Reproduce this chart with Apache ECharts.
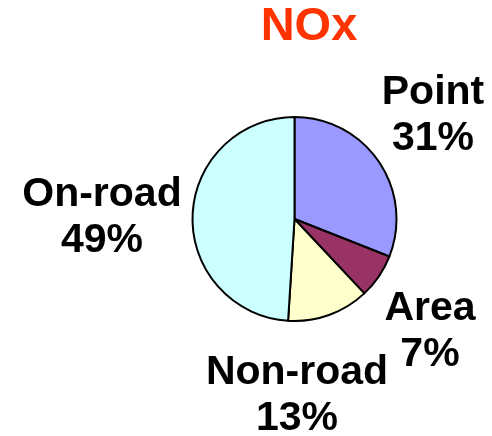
<!DOCTYPE html>
<html>
<head>
<meta charset="utf-8">
<script src="https://cdn.jsdelivr.net/npm/echarts@6/dist/echarts.min.js"></script>
<style>
  html, body { margin: 0; padding: 0; background: #fff; }
  #chart { width: 492px; height: 436px; }
</style>
</head>
<body>
<div id="chart"></div>
<script>
// data
const categories = ['Point', 'Area', 'Non-road', 'On-road']
const shares = [31, 7, 13, 49]
const sliceColors = ['#9999FF', '#993366', '#FFFFCC', '#CCFFFF']

// where each label block sits (centre of the two text lines)
const labelSpots = [[433, 116], [430, 332], [297, 396], [102, 218]]

const chart = echarts.init(document.getElementById('chart'))

const options = {
  backgroundColor: '#fff',
  animation: false,
  title: {
    text: 'NOx',
    left: 304,
    top: -1,
    textAlign: 'center',
    textStyle: {
      color: '#FF3300',
      fontFamily: 'Liberation Sans, Arial, sans-serif',
      fontWeight: 'bold',
      fontSize: 47
    }
  },
  series: [{
    type: 'pie',
    center: [294.5, 219],
    radius: [0, 102],
    startAngle: 90,
    clockwise: true,
    data: categories.map((name, i) => ({
      name: name,
      value: shares[i],
      itemStyle: { color: sliceColors[i] }
    })),
    itemStyle: {
      borderColor: '#000',
      borderWidth: 2
    },
    label: {
      show: true,
      formatter: '{b}\n{d}%',
      color: '#000',
      fontFamily: 'Liberation Sans, Arial, sans-serif',
      fontWeight: 'bold',
      fontSize: 41,
      lineHeight: 46,
      align: 'center',
      width: 240,
      overflow: 'none'
    },
    labelLine: { show: false },
    labelLayout: function (params) {
      const p = labelSpots[params.dataIndex]
      return { x: p[0], y: p[1], align: 'center', verticalAlign: 'middle' }
    },
    emphasis: { disabled: true }
  }]
}

chart.setOption(options)
</script>
</body>
</html>
